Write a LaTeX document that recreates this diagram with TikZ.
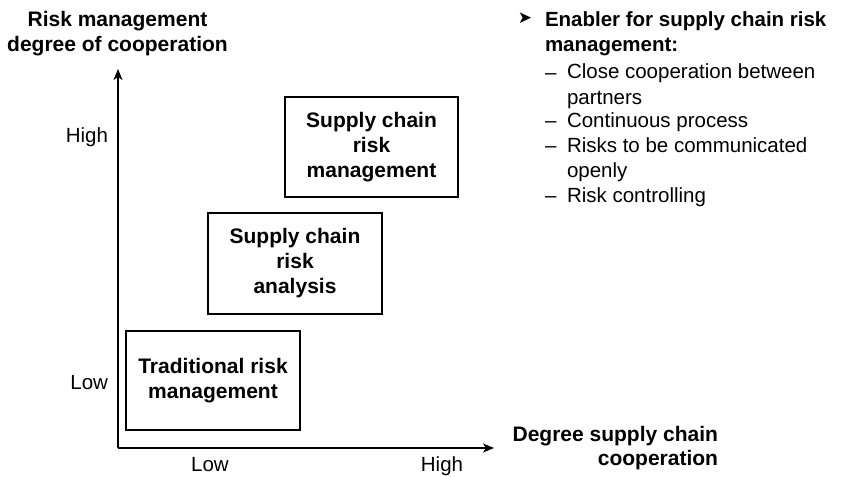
\documentclass[tikz,border=0pt]{standalone}
\usepackage{fontspec}
\setmainfont{Liberation Sans}
\newfontfamily\symfont{DejaVu Sans}
\usetikzlibrary{arrows.meta}
\begin{document}
\begin{tikzpicture}[x=1pt,y=-1pt,
  every node/.style={inner sep=0pt,outer sep=0pt,font=\fontsize{20.5}{25}\selectfont},
  boxnode/.style={draw,line width=1.3pt,align=center,font=\fontsize{21}{25}\selectfont\bfseries},
  axisline/.style={line width=1.4pt,-{Stealth[length=11pt,width=9pt,inset=3pt]}},
  lbl/.style={anchor=base},
  ttl/.style={anchor=base,align=center,font=\fontsize{21}{25}\selectfont\bfseries}]
\useasboundingbox (0,0) rectangle (842,476);
% axes
\coordinate (O) at (118,448);
\coordinate (ytop) at (118,69);
\coordinate (xend) at (494,448);
\draw[axisline] (O) -- (ytop);
\draw[axisline] (O) -- (xend);
% boxes
\node[boxnode,minimum width=173pt,minimum height=100pt] (scrm) at (371.5,147) {Supply chain\\risk\\management};
\node[boxnode,minimum width=174pt,minimum height=101pt] (scra) at (295,263.5) {Supply chain\\risk\\analysis};
\node[boxnode,minimum width=174pt,minimum height=99pt] (trm) at (213,380.5) {Traditional risk\\management};
% axis titles
\node[ttl] (ytitle) at (117.5,52) {Risk management\\degree of cooperation};
\node[anchor=base east,align=right,font=\fontsize{21}{23.5}\selectfont\bfseries] (xtitle) at (718,465) {Degree supply chain\\cooperation};
% axis labels
\node[anchor=base east] (yhigh) at (108,142) {High};
\node[anchor=base east] (ylow) at (108,389) {Low};
\node[lbl] (xlow) at (210,471) {Low};
\node[lbl] (xhigh) at (442,471) {High};
% right list
\node[anchor=base,font=\fontsize{17}{17}\symfont] (bul) at (525,24) {➤};
\node[anchor=base west,align=left,font=\fontsize{20.5}{25}\selectfont\bfseries] (head) at (545,52) {Enabler for supply chain risk\\management:};
\node[anchor=base west] (d1) at (545,80) {–};
\node[anchor=base west,align=left] (i1) at (567,104) {Close cooperation between\\partners};
\node[anchor=base west] (d2) at (545,128) {–};
\node[anchor=base west] (i2) at (567,128) {Continuous process};
\node[anchor=base west] (d3) at (545,152) {–};
\node[anchor=base west,align=left] (i3) at (567,177) {Risks to be communicated\\openly};
\node[anchor=base west] (d4) at (545,202) {–};
\node[anchor=base west] (i4) at (567,202) {Risk controlling};
\end{tikzpicture}
\end{document}
